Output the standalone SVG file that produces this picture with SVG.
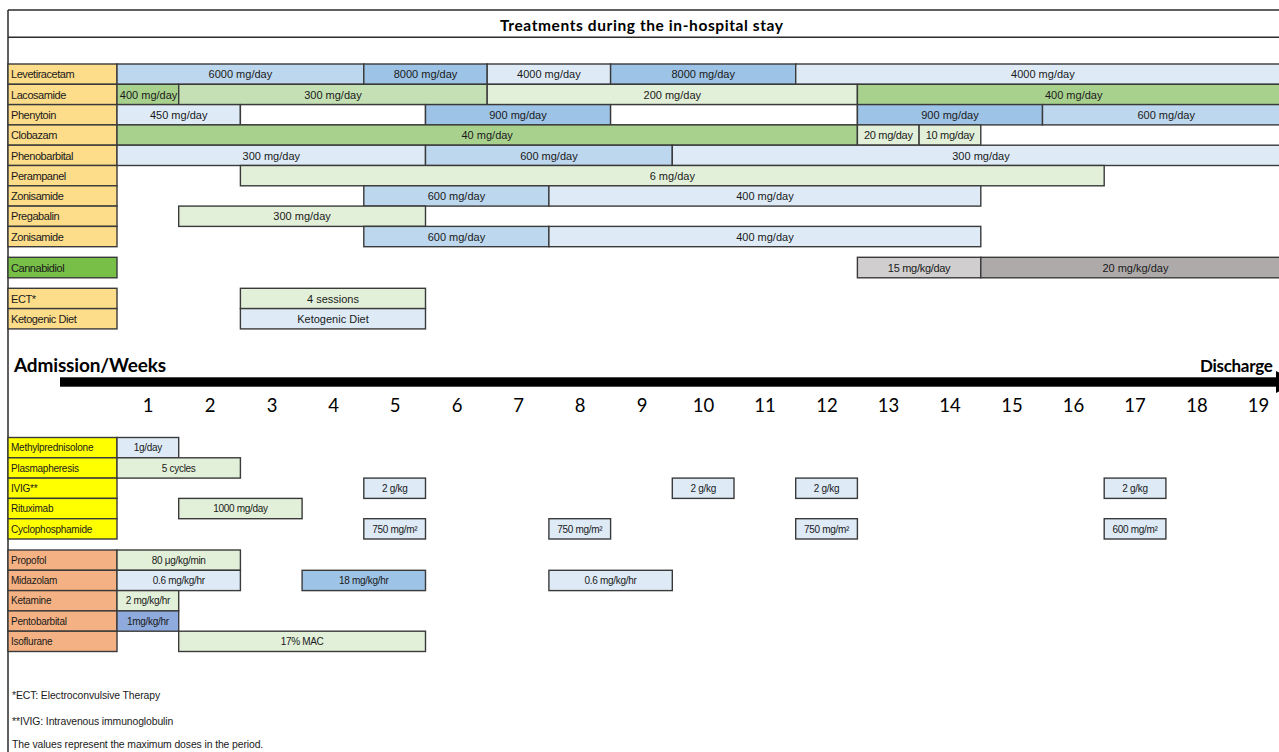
<svg xmlns="http://www.w3.org/2000/svg" width="1279" height="752" viewBox="0 0 1279 752">
<style>
  .frame{fill:none;stroke:#2b2b2b;stroke-width:1.5}
  rect{stroke:#3a3a3a;stroke-width:1.4}
  .lab{fill:#fddc8a}
  .cbd{fill:#78bf48}
  .yel{fill:#ffff00}
  .ora{fill:#f4b183}
  .b1{fill:#deebf7}
  .b2{fill:#bdd7ee}
  .b3{fill:#9dc3e6}
  .b4{fill:#8faadc}
  .g1{fill:#e2f0d9}
  .g2{fill:#c5e0b4}
  .g3{fill:#a9d18e}
  .k1{fill:#d0cece}
  .k2{fill:#aeaaaa}
  .w{fill:#ffffff}
  text{font-family:"Liberation Sans",Arial,sans-serif;fill:#1a1a1a}
  .lt{font-size:11px;letter-spacing:-0.45px}
  .vt{font-size:11px;text-anchor:middle}
  .lt2{font-size:10px;letter-spacing:-0.25px}
  .vt2{font-size:10px;text-anchor:middle;letter-spacing:-0.3px}
  .big{font-family:Lato,"Open Sans",sans-serif;font-weight:bold;fill:#000}
  .wk{font-family:Lato,"Open Sans",sans-serif;font-size:18.5px;text-anchor:middle;fill:#000}
  .fn{font-size:10.4px;letter-spacing:-0.1px}
</style>

<rect x="0" y="0" width="1279" height="752" style="fill:#ffffff;stroke:none"/>

<g id="frame">
  <line class="frame" x1="8" y1="10" x2="1279" y2="10"/>
  <line class="frame" x1="8" y1="37.3" x2="1279" y2="37.3"/>
  <line class="frame" x1="8" y1="10" x2="8" y2="752"/>
  <text class="big" x="641.5" y="31" font-size="15.5" text-anchor="middle" textLength="283">Treatments during the in-hospital stay</text>
</g>

<!-- Top table -->
<g id="levetiracetam">
  <rect class="lab" x="8" y="64" width="109" height="20.3"/>
  <text class="lt" x="11" y="78.3">Levetiracetam</text>
  <rect class="b2" x="117" y="64" width="246.8" height="20.3"/>
  <rect class="b3" x="363.8" y="64" width="123.4" height="20.3"/>
  <rect class="b1" x="487.2" y="64" width="123.4" height="20.3"/>
  <rect class="b3" x="610.6" y="64" width="185.1" height="20.3"/>
  <rect class="b1" x="795.7" y="64" width="494.3" height="20.3"/>
  <text class="vt" x="240.4" y="78.3">6000 mg/day</text>
  <text class="vt" x="425.5" y="78.3">8000 mg/day</text>
  <text class="vt" x="548.9" y="78.3">4000 mg/day</text>
  <text class="vt" x="703.2" y="78.3">8000 mg/day</text>
  <text class="vt" x="1042.9" y="78.3">4000 mg/day</text>
</g>

<g id="lacosamide">
  <rect class="lab" x="8" y="84.3" width="109" height="20.3"/>
  <text class="lt" x="11" y="98.6">Lacosamide</text>
  <rect class="g3" x="117" y="84.3" width="61.7" height="20.3"/>
  <text class="vt" x="148.6" y="98.6">400 mg/day</text>
  <rect class="g2" x="178.7" y="84.3" width="308.5" height="20.3"/>
  <rect class="g1" x="487.2" y="84.3" width="370.2" height="20.3"/>
  <rect class="g3" x="857.4" y="84.3" width="432.6" height="20.3"/>
  <text class="vt" x="332.9" y="98.6">300 mg/day</text>
  <text class="vt" x="672.3" y="98.6">200 mg/day</text>
  <text class="vt" x="1073.7" y="98.6">400 mg/day</text>
</g>

<g id="phenytoin">
  <rect class="lab" x="8" y="104.6" width="109" height="20.3"/>
  <text class="lt" x="11" y="118.9">Phenytoin</text>
  <rect class="b1" x="117" y="104.6" width="123.4" height="20.3"/>
  <rect class="w" x="240.4" y="104.6" width="185.1" height="20.3"/>
  <rect class="b3" x="425.5" y="104.6" width="185.1" height="20.3"/>
  <rect class="w" x="610.6" y="104.6" width="246.8" height="20.3"/>
  <rect class="b3" x="857.4" y="104.6" width="185.1" height="20.3"/>
  <rect class="b2" x="1042.5" y="104.6" width="247.5" height="20.3"/>
  <text class="vt" x="178.7" y="118.9">450 mg/day</text>
  <text class="vt" x="518" y="118.9">900 mg/day</text>
  <text class="vt" x="950" y="118.9">900 mg/day</text>
  <text class="vt" x="1166.2" y="118.9">600 mg/day</text>
</g>

<g id="clobazam">
  <rect class="lab" x="8" y="124.9" width="109" height="20.3"/>
  <text class="lt" x="11" y="139.2">Clobazam</text>
  <rect class="g3" x="117" y="124.9" width="740.4" height="20.3"/>
  <rect class="g1" x="857.4" y="124.9" width="61.7" height="20.3"/>
  <rect class="g1" x="919.1" y="124.9" width="61.7" height="20.3"/>
  <text class="vt" x="487.2" y="139.2">40 mg/day</text>
  <text class="vt" x="888.3" y="139.2" letter-spacing="-0.3">20 mg/day</text>
  <text class="vt" x="950" y="139.2" letter-spacing="-0.3">10 mg/day</text>
</g>

<g id="phenobarbital">
  <rect class="lab" x="8" y="145.2" width="109" height="20.3"/>
  <text class="lt" x="11" y="159.5">Phenobarbital</text>
  <rect class="b1" x="117" y="145.2" width="308.5" height="20.3"/>
  <rect class="b2" x="425.5" y="145.2" width="246.8" height="20.3"/>
  <rect class="b1" x="672.3" y="145.2" width="617.7" height="20.3"/>
  <text class="vt" x="271.3" y="159.5">300 mg/day</text>
  <text class="vt" x="548.9" y="159.5">600 mg/day</text>
  <text class="vt" x="981" y="159.5">300 mg/day</text>
</g>

<g id="perampanel">
  <rect class="lab" x="8" y="165.5" width="109" height="20.3"/>
  <text class="lt" x="11" y="179.8">Perampanel</text>
  <rect class="g1" x="240.4" y="165.5" width="863.8" height="20.3"/>
  <text class="vt" x="672.3" y="179.8">6 mg/day</text>
</g>

<g id="zonisamide1">
  <rect class="lab" x="8" y="185.8" width="109" height="20.3"/>
  <text class="lt" x="11" y="200.1">Zonisamide</text>
  <rect class="b2" x="363.8" y="185.8" width="185.1" height="20.3"/>
  <rect class="b1" x="548.9" y="185.8" width="431.9" height="20.3"/>
  <text class="vt" x="456.4" y="200.1">600 mg/day</text>
  <text class="vt" x="764.9" y="200.1">400 mg/day</text>
</g>

<g id="pregabalin">
  <rect class="lab" x="8" y="206.1" width="109" height="20.3"/>
  <text class="lt" x="11" y="220.4">Pregabalin</text>
  <rect class="g1" x="178.7" y="206.1" width="246.8" height="20.3"/>
  <text class="vt" x="302.1" y="220.4">300 mg/day</text>
</g>

<g id="zonisamide2">
  <rect class="lab" x="8" y="226.4" width="109" height="20.3"/>
  <text class="lt" x="11" y="240.7">Zonisamide</text>
  <rect class="b2" x="363.8" y="226.4" width="185.1" height="20.3"/>
  <rect class="b1" x="548.9" y="226.4" width="431.9" height="20.3"/>
  <text class="vt" x="456.4" y="240.7">600 mg/day</text>
  <text class="vt" x="764.9" y="240.7">400 mg/day</text>
</g>

<g id="cannabidiol">
  <rect class="cbd" x="8" y="257.3" width="109" height="20.5"/>
  <text class="lt" x="11" y="271.7">Cannabidiol</text>
  <rect class="k1" x="857.4" y="257.3" width="123.4" height="20.5"/>
  <rect class="k2" x="980.8" y="257.3" width="309.2" height="20.5"/>
  <text class="vt" x="919.1" y="271.7" letter-spacing="-0.3">15 mg/kg/day</text>
  <text class="vt" x="1135.4" y="271.7">20 mg/kg/day</text>
</g>

<g id="ect">
  <rect class="lab" x="8" y="288.3" width="109" height="20.3"/>
  <text class="lt" x="11" y="302.6">ECT*</text>
  <rect class="g1" x="240.4" y="288.3" width="185.1" height="20.3"/>
  <text class="vt" x="333" y="302.6">4 sessions</text>
</g>

<g id="ketogenic">
  <rect class="lab" x="8" y="308.6" width="109" height="20.3"/>
  <text class="lt" x="11" y="322.9">Ketogenic Diet</text>
  <rect class="b1" x="240.4" y="308.6" width="185.1" height="20.3"/>
  <text class="vt" x="333" y="322.9">Ketogenic Diet</text>
</g>

<!-- Timeline -->
<g id="timeline-labels">
  <text class="big" x="14" y="372" font-size="19" textLength="152">Admission/Weeks</text>
  <text class="big" x="1200" y="372" font-size="17" letter-spacing="-0.3">Discharge</text>
</g>

<g id="connectors">
  <rect x="60" y="377.3" width="1217" height="9.4" style="fill:#000;stroke:none"/>
  <polygon points="1276,371 1276,393 1298,382" fill="#000"/>
</g>

<g id="weeks">
  <text class="wk" x="148" y="412">1</text>
  <text class="wk" x="210" y="412">2</text>
  <text class="wk" x="272" y="412">3</text>
  <text class="wk" x="333.5" y="412">4</text>
  <text class="wk" x="395" y="412">5</text>
  <text class="wk" x="457" y="412">6</text>
  <text class="wk" x="518.5" y="412">7</text>
  <text class="wk" x="580" y="412">8</text>
  <text class="wk" x="642" y="412">9</text>
  <text class="wk" x="703.5" y="412">10</text>
  <text class="wk" x="765" y="412">11</text>
  <text class="wk" x="827" y="412">12</text>
  <text class="wk" x="888.5" y="412">13</text>
  <text class="wk" x="950" y="412">14</text>
  <text class="wk" x="1012" y="412">15</text>
  <text class="wk" x="1073.5" y="412">16</text>
  <text class="wk" x="1135" y="412">17</text>
  <text class="wk" x="1197" y="412">18</text>
  <text class="wk" x="1258.5" y="412">19</text>
</g>

<!-- Immunotherapy table -->
<g id="methylprednisolone">
  <rect class="yel" x="8" y="437.5" width="109" height="20.3"/>
  <text class="lt2" x="11" y="451.3">Methylprednisolone</text>
  <rect class="b1" x="117" y="437.5" width="61.7" height="20.3"/>
  <text class="vt2" x="147.9" y="451.3">1g/day</text>
</g>

<g id="plasmapheresis">
  <rect class="yel" x="8" y="457.8" width="109" height="20.3"/>
  <text class="lt2" x="11" y="471.6">Plasmapheresis</text>
  <rect class="g1" x="117" y="457.8" width="123.4" height="20.3"/>
  <text class="vt2" x="178.7" y="471.6">5 cycles</text>
</g>

<g id="ivig">
  <rect class="yel" x="8" y="478.1" width="109" height="20.3"/>
  <text class="lt2" x="11" y="491.9">IVIG**</text>
  <rect class="b1" x="363.8" y="478.1" width="61.7" height="20.3"/>
  <rect class="b1" x="672.3" y="478.1" width="61.7" height="20.3"/>
  <rect class="b1" x="795.7" y="478.1" width="61.7" height="20.3"/>
  <rect class="b1" x="1104.2" y="478.1" width="61.7" height="20.3"/>
  <text class="vt2" x="394.7" y="491.9">2 g/kg</text>
  <text class="vt2" x="703.2" y="491.9">2 g/kg</text>
  <text class="vt2" x="826.6" y="491.9">2 g/kg</text>
  <text class="vt2" x="1135.1" y="491.9">2 g/kg</text>
</g>

<g id="rituximab">
  <rect class="yel" x="8" y="498.4" width="109" height="20.3"/>
  <text class="lt2" x="11" y="512.2">Rituximab</text>
  <rect class="g1" x="178.7" y="498.4" width="123.4" height="20.3"/>
  <text class="vt2" x="240.4" y="512.2">1000 mg/day</text>
</g>

<g id="cyclophosphamide">
  <rect class="yel" x="8" y="518.7" width="109" height="20.3"/>
  <text class="lt2" x="11" y="532.5">Cyclophosphamide</text>
  <rect class="b1" x="363.8" y="518.7" width="61.7" height="20.3"/>
  <rect class="b1" x="548.9" y="518.7" width="61.7" height="20.3"/>
  <rect class="b1" x="795.7" y="518.7" width="61.7" height="20.3"/>
  <rect class="b1" x="1104.2" y="518.7" width="61.7" height="20.3"/>
  <text class="vt2" x="394.7" y="532.5">750 mg/m²</text>
  <text class="vt2" x="579.8" y="532.5">750 mg/m²</text>
  <text class="vt2" x="826.6" y="532.5">750 mg/m²</text>
  <text class="vt2" x="1135.1" y="532.5">600 mg/m²</text>
</g>

<!-- Anesthetics table -->
<g id="propofol">
  <rect class="ora" x="8" y="550" width="109" height="20.3"/>
  <text class="lt2" x="11" y="563.8">Propofol</text>
  <rect class="g1" x="117" y="550" width="123.4" height="20.3"/>
  <text class="vt2" x="178.7" y="563.8">80 μg/kg/min</text>
</g>

<g id="midazolam">
  <rect class="ora" x="8" y="570.3" width="109" height="20.3"/>
  <text class="lt2" x="11" y="584.1">Midazolam</text>
  <rect class="b1" x="117" y="570.3" width="123.4" height="20.3"/>
  <rect class="b3" x="302.1" y="570.3" width="123.4" height="20.3"/>
  <rect class="b1" x="548.9" y="570.3" width="123.4" height="20.3"/>
  <text class="vt2" x="178.7" y="584.1">0.6 mg/kg/hr</text>
  <text class="vt2" x="363.8" y="584.1">18 mg/kg/hr</text>
  <text class="vt2" x="610.6" y="584.1">0.6 mg/kg/hr</text>
</g>

<g id="ketamine">
  <rect class="ora" x="8" y="590.6" width="109" height="20.3"/>
  <text class="lt2" x="11" y="604.4">Ketamine</text>
  <rect class="g1" x="117" y="590.6" width="61.7" height="20.3"/>
  <text class="vt2" x="147.9" y="604.4">2 mg/kg/hr</text>
</g>

<g id="pentobarbital">
  <rect class="ora" x="8" y="610.9" width="109" height="20.3"/>
  <text class="lt2" x="11" y="624.7">Pentobarbital</text>
  <rect class="b4" x="117" y="610.9" width="61.7" height="20.3"/>
  <text class="vt2" x="147.9" y="624.7">1mg/kg/hr</text>
</g>

<g id="isoflurane">
  <rect class="ora" x="8" y="631.2" width="109" height="20.3"/>
  <text class="lt2" x="11" y="645">Isoflurane</text>
  <rect class="g1" x="178.7" y="631.2" width="246.8" height="20.3"/>
  <text class="vt2" x="302.1" y="645">17% MAC</text>
</g>

<g id="footnotes">
  <text class="fn" x="12" y="699">*ECT: Electroconvulsive Therapy</text>
  <text class="fn" x="12" y="725">**IVIG: Intravenous immunoglobulin</text>
  <text class="fn" x="12" y="748">The values represent the maximum doses in the period.</text>
</g>
</svg>
